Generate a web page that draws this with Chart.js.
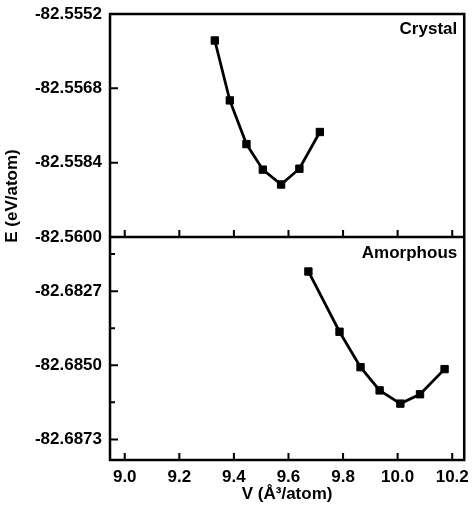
<!DOCTYPE html>
<html>
<head>
<meta charset="utf-8">
<script src="https://cdn.jsdelivr.net/npm/chart.js@4/dist/chart.umd.min.js"></script>
<style>
  body { margin: 0; background: #fff; }
  #eChart { display: block; }
</style>
</head>
<body>
<canvas id="eChart" width="476" height="507"></canvas>
<script>
// volume (A^3/atom) and energy (eV/atom)
const crystalV = [9.330, 9.385, 9.446, 9.506, 9.573, 9.640, 9.715];
const crystalE = [-82.55577, -82.55706, -82.55800, -82.55855, -82.55887, -82.55853, -82.55774];
const amorphV = [9.673, 9.787, 9.864, 9.934, 10.010, 10.082, 10.172];
const amorphE = [-82.68209, -82.68396, -82.68506, -82.68578, -82.68619, -82.68590, -82.68512];

const xTicks = [9.0, 9.2, 9.4, 9.6, 9.8, 10.0, 10.2];
const crystalTicks = [-82.5600, -82.5584, -82.5568, -82.5552];
const amorphTicks = [-82.6873, -82.6850, -82.6827];
const amorphMinor = [-82.68615, -82.68385, -82.68155];

const FONT = { family: 'Liberation Sans, Arial, sans-serif', size: 17, weight: 'bold' };

function toPoints(xs, ys) {
  return xs.map((v, i) => ({ x: v, y: ys[i] }));
}

// fixed axis width, and no extra room for the end labels
function fitY(s) {
  s.width = 110;
  s.paddingTop = 0;
  s.paddingBottom = 0;
}

// frame, inward ticks and panel labels
const framePlugin = {
  id: 'frame',
  afterDraw(chart) {
    const ctx = chart.ctx;
    const a = chart.chartArea;
    const x = chart.scales.x;
    const yTop = chart.scales.yTop;
    const yBot = chart.scales.yBot;
    const mid = yTop.bottom;
    ctx.save();
    ctx.strokeStyle = '#000';
    ctx.lineWidth = 2.5;
    ctx.strokeRect(a.left, a.top, a.right - a.left, a.bottom - a.top);
    ctx.beginPath();
    ctx.moveTo(a.left, mid);
    ctx.lineTo(a.right, mid);
    ctx.stroke();

    ctx.lineWidth = 2;
    ctx.beginPath();
    xTicks.forEach(v => {
      const px = x.getPixelForValue(v);
      ctx.moveTo(px, a.bottom); ctx.lineTo(px, a.bottom - 7);
      ctx.moveTo(px, mid); ctx.lineTo(px, mid - 7);
    });
    crystalTicks.forEach(v => {
      const py = yTop.getPixelForValue(v);
      ctx.moveTo(a.left, py); ctx.lineTo(a.left + 8, py);
    });
    amorphTicks.forEach(v => {
      const py = yBot.getPixelForValue(v);
      ctx.moveTo(a.left, py); ctx.lineTo(a.left + 8, py);
    });
    amorphMinor.forEach(v => {
      const py = yBot.getPixelForValue(v);
      ctx.moveTo(a.left, py); ctx.lineTo(a.left + 5, py);
    });
    ctx.stroke();

    ctx.fillStyle = '#000';
    ctx.font = 'bold 17px "Liberation Sans", Arial, sans-serif';
    ctx.textAlign = 'right';
    ctx.textBaseline = 'middle';
    ctx.fillText('Crystal', a.right - 7, a.top + 15);
    ctx.fillText('Amorphous', a.right - 7, mid + 16);

    ctx.translate(12, 196);
    ctx.rotate(-Math.PI / 2);
    ctx.textAlign = 'center';
    ctx.fillText('E (eV/atom)', 0, 0);
    ctx.restore();
  }
};

const ctx = document.getElementById('eChart').getContext('2d');
const eChart = new Chart(ctx, {
  type: 'line',
  data: {
    datasets: [{
      label: 'Crystal',
      data: toPoints(crystalV, crystalE),
      yAxisID: 'yTop',
      borderColor: '#000',
      backgroundColor: '#000',
      borderWidth: 2.8,
      pointStyle: 'rect',
      pointRadius: 5.2,
      pointBorderWidth: 1,
      tension: 0
    }, {
      label: 'Amorphous',
      data: toPoints(amorphV, amorphE),
      yAxisID: 'yBot',
      borderColor: '#000',
      backgroundColor: '#000',
      borderWidth: 2.8,
      pointStyle: 'rect',
      pointRadius: 5.2,
      pointBorderWidth: 1,
      tension: 0
    }]
  },
  options: {
    responsive: false,
    animation: false,
    devicePixelRatio: 1,
    layout: { padding: { top: 14, right: 7, left: 0, bottom: 0 } },
    plugins: { legend: { display: false }, tooltip: { enabled: false } },
    scales: {
      x: {
        type: 'linear',
        min: 8.946,
        max: 10.244,
        afterBuildTicks: s => { s.ticks = xTicks.map(v => ({ value: v })); },
        afterFit: s => { s.height = 47; },
        grid: { display: false, drawTicks: false },
        border: { display: false },
        ticks: { color: '#000', font: FONT, padding: 7, callback: v => v.toFixed(1) },
        title: { display: true, text: 'V (Å³/atom)', color: '#000', font: FONT, padding: { top: 0, bottom: 2 } }
      },
      // stacked axes are laid out bottom-first, so the lower panel comes first
      yBot: {
        type: 'linear',
        position: 'left',
        stack: 'e',
        stackWeight: 1,
        min: -82.68794,
        max: -82.68102,
        afterBuildTicks: s => { s.ticks = amorphTicks.map(v => ({ value: v })); },
        afterFit: fitY,
        grid: { display: false, drawTicks: false },
        border: { display: false },
        ticks: { color: '#000', font: FONT, padding: 8, callback: v => v.toFixed(4) }
      },
      yTop: {
        type: 'linear',
        position: 'left',
        stack: 'e',
        stackWeight: 1,
        min: -82.5600,
        max: -82.5552,
        afterBuildTicks: s => { s.ticks = crystalTicks.map(v => ({ value: v })); },
        afterFit: fitY,
        grid: { display: false, drawTicks: false },
        border: { display: false },
        ticks: { color: '#000', font: FONT, padding: 8, callback: v => v.toFixed(4) }
      }
    }
  },
  plugins: [framePlugin]
});
</script>
</body>
</html>
